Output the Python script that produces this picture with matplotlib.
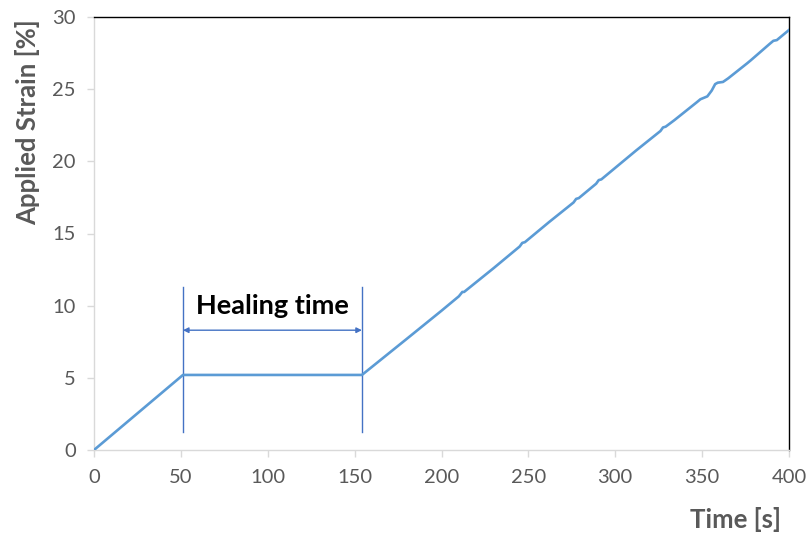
import matplotlib
matplotlib.use("Agg")
import matplotlib.pyplot as plt

# Applied strain history: loading, hold (healing), reloading
time_s = [0, 51.2, 100, 154.2, 180, 200, 210, 212, 213, 230, 245, 246.5, 248, 262,
          276, 277.5, 279, 289, 290.5, 292, 312, 326, 327.5, 329, 334, 347, 349, 353,
          355.5, 357.5, 359, 362, 365, 376, 378, 389, 391, 393, 400]
strain_pct = [0, 5.2, 5.2, 5.2, 7.7, 9.65, 10.65, 10.95, 10.95, 12.6, 14.1, 14.35, 14.4, 15.8,
              17.15, 17.4, 17.45, 18.45, 18.7, 18.75, 20.75, 22.1, 22.35, 22.4, 22.85, 24.1, 24.3, 24.5,
              24.9, 25.35, 25.45, 25.5, 25.75, 26.8, 27.0, 28.15, 28.35, 28.4, 29.1]

heal_start, heal_end = 51.2, 154.2
marker_span = [1.25, 11.3]
arrow_level = 8.3
label_level = 10.0

x_ticks = [0, 50, 100, 150, 200, 250, 300, 350, 400]
y_ticks = [0, 5, 10, 15, 20, 25, 30]

plt.rcParams['font.family'] = ['Lato', 'DejaVu Sans']
gray = '#595959'
spine_gray = '#d9d9d9'

fig = plt.figure(figsize=(8.08, 5.34), dpi=100)
ax = fig.add_axes([94/808, 84/534, 695/808, 433/534])

ax.plot(time_s, strain_pct, color='#5B9BD5', lw=1.9, solid_joinstyle='round', zorder=3)

for xv in (heal_start, heal_end):
    ax.plot([xv, xv], marker_span, color='#4472C4', lw=1.0, zorder=2)
ax.annotate('', xy=(heal_start, arrow_level), xytext=(heal_end, arrow_level),
            arrowprops=dict(arrowstyle='<|-|>', color='#4472C4', lw=1.0,
                            mutation_scale=8, shrinkA=0, shrinkB=0))
ax.text((heal_start + heal_end) / 2, label_level, 'Healing time', ha='center', va='center',
        fontsize=19.5, fontweight='bold', color='black')

ax.set_xlim(0, 400)
ax.set_ylim(0, 30)
ax.set_xticks(x_ticks)
ax.set_yticks(y_ticks)
ax.tick_params(axis='both', direction='out', length=5, width=1, color=spine_gray,
               labelcolor=gray, labelsize=14.5)
ax.tick_params(axis='x', pad=9)
ax.tick_params(axis='y', pad=8)

for s in ('left', 'bottom'):
    ax.spines[s].set_color(spine_gray)
    ax.spines[s].set_linewidth(1.0)
for s in ('top', 'right'):
    ax.spines[s].set_color('black')
    ax.spines[s].set_linewidth(1.0)

fig.text(28/808, 1 - 122/534, 'Applied Strain [%]', rotation=90, ha='center', va='center',
         fontsize=18.5, fontweight='bold', color=gray)
fig.text(781/808, 1 - 519/534, 'Time [s]', ha='right', va='center',
         fontsize=18.5, fontweight='bold', color=gray)

fig.savefig('out.png', dpi=100)
